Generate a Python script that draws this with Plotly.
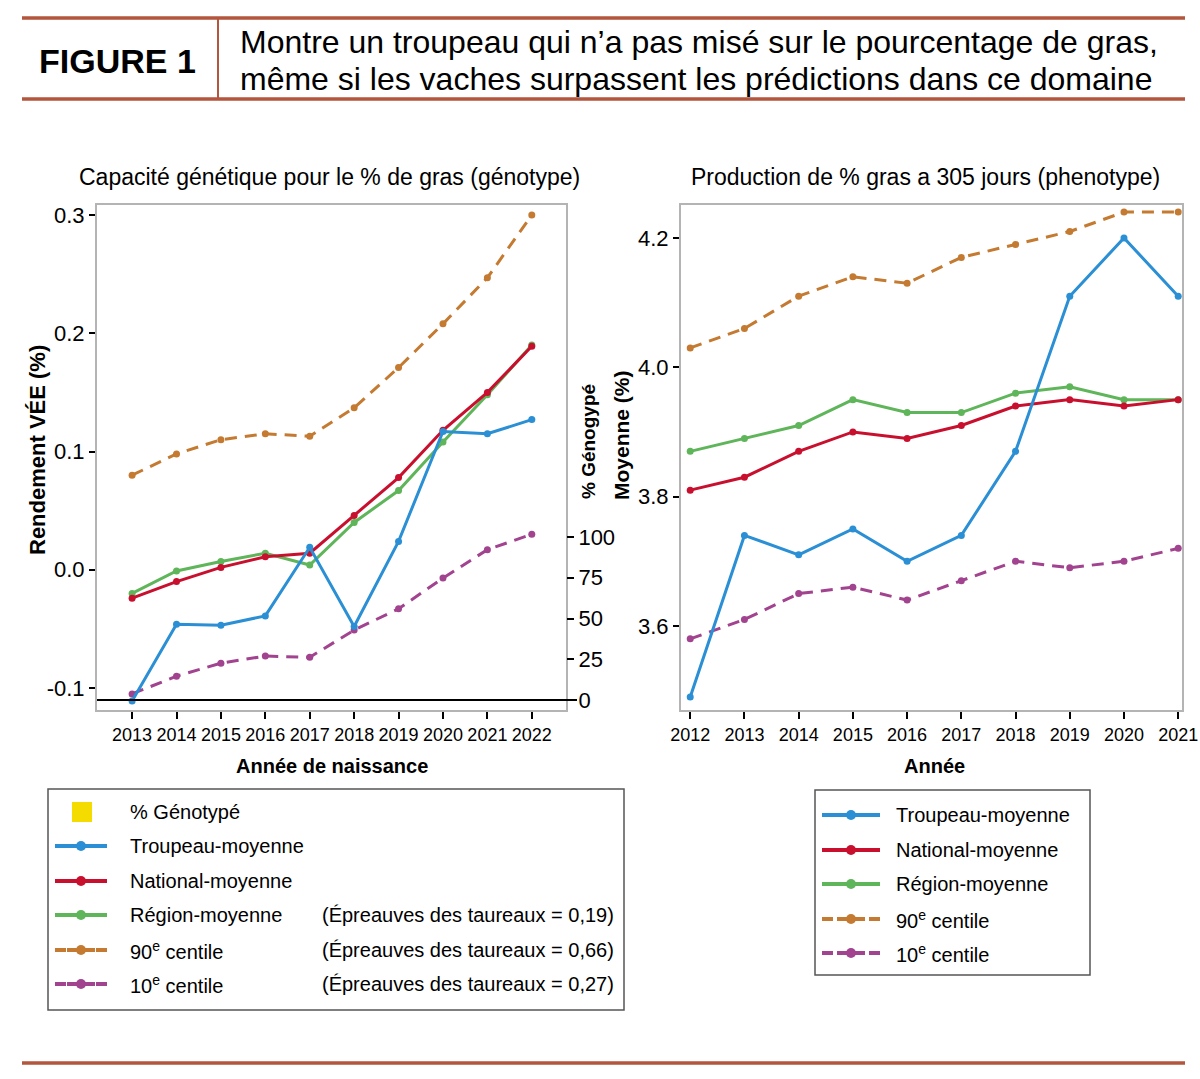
import plotly.graph_objects as go

# ---------------- data ----------------
years_gen = [2013, 2014, 2015, 2016, 2017, 2018, 2019, 2020, 2021, 2022]
troupeau_gen = [-0.111, -0.046, -0.047, -0.039, 0.019, -0.048, 0.024, 0.117, 0.115, 0.127]
national_gen = [-0.024, -0.010, 0.002, 0.011, 0.014, 0.046, 0.078, 0.118, 0.150, 0.189]
region_gen = [-0.020, -0.001, 0.007, 0.014, 0.004, 0.040, 0.067, 0.108, 0.148, 0.190]
p90_gen = [0.080, 0.098, 0.110, 0.115, 0.113, 0.137, 0.171, 0.208, 0.247, 0.300]
p10_gen = [-0.105, -0.090, -0.079, -0.073, -0.074, -0.051, -0.033, -0.007, 0.017, 0.030]

years_phen = [2012, 2013, 2014, 2015, 2016, 2017, 2018, 2019, 2020, 2021]
troupeau_phen = [3.49, 3.74, 3.71, 3.75, 3.70, 3.74, 3.87, 4.11, 4.20, 4.11]
national_phen = [3.81, 3.83, 3.87, 3.90, 3.89, 3.91, 3.94, 3.95, 3.94, 3.95]
region_phen = [3.87, 3.89, 3.91, 3.95, 3.93, 3.93, 3.96, 3.97, 3.95, 3.95]
p90_phen = [4.03, 4.06, 4.11, 4.14, 4.13, 4.17, 4.19, 4.21, 4.24, 4.24]
p10_phen = [3.58, 3.61, 3.65, 3.66, 3.64, 3.67, 3.70, 3.69, 3.70, 3.72]

gen_yticks = [-0.1, 0.0, 0.1, 0.2, 0.3]
gen_yticklabels = ["-0.1", "0.0", "0.1", "0.2", "0.3"]
genotyped_ticks = [0, 25, 50, 75, 100]
phen_yticks = [3.6, 3.8, 4.0, 4.2]
phen_yticklabels = ["3.6", "3.8", "4.0", "4.2"]

series_names = ["Troupeau-moyenne", "National-moyenne", "Région-moyenne",
                "90<sup>e</sup> centile", "10<sup>e</sup> centile"]
bull_proofs = ["(Épreauves des taureaux = 0,19)", "(Épreauves des taureaux = 0,66)",
               "(Épreauves des taureaux = 0,27)"]

# ---------------- style ----------------
W, H = 1200, 1079
FONT = "Liberation Sans, Arial, sans-serif"
C_BLUE = "#2a8fd4"
C_RED = "#c8102e"
C_GREEN = "#5fb55a"
C_ORANGE = "#c47a30"
C_PURPLE = "#a2438f"
C_RULE = "#b4553d"
C_FRAME = "#b4b4b4"
DASH = "12px,8px"


def px(x):
    return x / W


def py(y):
    return 1 - y / H


fig = go.Figure()

styles = [
    ("p90", C_ORANGE, DASH),
    ("p10", C_PURPLE, DASH),
    ("region", C_GREEN, "solid"),
    ("national", C_RED, "solid"),
    ("troupeau", C_BLUE, "solid"),
]
gen_data = {"troupeau": troupeau_gen, "national": national_gen, "region": region_gen,
            "p90": p90_gen, "p10": p10_gen}
phen_data = {"troupeau": troupeau_phen, "national": national_phen, "region": region_phen,
             "p90": p90_phen, "p10": p10_phen}

for key, color, dash in styles:
    fig.add_trace(go.Scatter(
        x=years_gen, y=gen_data[key], mode="lines+markers", xaxis="x", yaxis="y",
        line=dict(color=color, width=3, dash=dash),
        marker=dict(color=color, size=7), showlegend=False, hoverinfo="skip"))
for key, color, dash in styles:
    fig.add_trace(go.Scatter(
        x=years_phen, y=phen_data[key], mode="lines+markers", xaxis="x2", yaxis="y3",
        line=dict(color=color, width=3, dash=dash),
        marker=dict(color=color, size=7), showlegend=False, hoverinfo="skip"))

axis_common = dict(showgrid=False, zeroline=False, showline=True, linecolor=C_FRAME,
                   linewidth=2, mirror=True, ticks="outside", tickcolor="black",
                   tickwidth=2, automargin=False)
xtick_font = dict(family=FONT, size=18, color="black")
ytick_font = dict(family=FONT, size=22, color="black")

fig.update_layout(
    width=W, height=H, margin=dict(l=0, r=0, t=0, b=0, autoexpand=False),
    paper_bgcolor="white", plot_bgcolor="white", showlegend=False,
    font=dict(family=FONT, color="black"),
    xaxis=dict(domain=[px(97), px(566)], range=[2012.21, 2022.77], anchor="y",
               tickvals=years_gen, tickangle=0, ticklen=7, tickfont=xtick_font, **axis_common),
    yaxis=dict(domain=[py(710), py(205)], range=[-0.1186, 0.3085], anchor="x",
               tickvals=gen_yticks, ticktext=gen_yticklabels, ticklen=6,
               tickfont=ytick_font, **axis_common),
    yaxis2=dict(overlaying="y", side="right", anchor="x", range=[-6.13, 303.7],
                tickvals=genotyped_ticks, showgrid=False, zeroline=False, showline=False,
                ticks="outside", tickcolor="black", tickwidth=2, ticklen=7,
                automargin=False, tickfont=ytick_font),
    xaxis2=dict(domain=[px(681), px(1182)], range=[2011.83, 2021.07], anchor="y3",
                tickvals=years_phen, tickangle=0, ticklen=7, tickfont=xtick_font, **axis_common),
    yaxis3=dict(domain=[py(710), py(205)], range=[3.470, 4.251], anchor="x2",
                tickvals=phen_yticks, ticktext=phen_yticklabels, ticklen=6,
                tickfont=ytick_font, **axis_common),
)

shapes = []
annotations = []

# baseline of the % genotyped axis
shapes.append(dict(type="line", xref="paper", yref="y2", x0=px(97), x1=px(577), y0=0, y1=0,
                   line=dict(color="black", width=2)))

# header rules
for yy in (18, 99):
    shapes.append(dict(type="line", xref="paper", yref="paper", x0=px(22), x1=px(1185),
                       y0=py(yy), y1=py(yy), line=dict(color=C_RULE, width=3.5)))
shapes.append(dict(type="line", xref="paper", yref="paper", x0=px(218), x1=px(218),
                   y0=py(18), y1=py(99), line=dict(color=C_RULE, width=2)))
shapes.append(dict(type="line", xref="paper", yref="paper", x0=px(22), x1=px(1185),
                   y0=py(1063), y1=py(1063), line=dict(color=C_RULE, width=3.5)))


def ann(text, x, y, size, bold=False, xanchor="center", angle=0):
    if bold:
        text = "<b>" + text + "</b>"
    annotations.append(dict(text=text, x=px(x), y=py(y), xref="paper", yref="paper",
                            showarrow=False, xanchor=xanchor, yanchor="middle",
                            textangle=angle, font=dict(family=FONT, size=size, color="black")))


ann("FIGURE 1", 117, 61, 34, bold=True)
ann("Montre un troupeau qui n’a pas misé sur le pourcentage de gras,", 238, 42, 32, xanchor="left")
ann("même si les vaches surpassent les prédictions dans ce domaine", 238, 79, 32, xanchor="left")

ann("Capacité génétique pour le % de gras (génotype)", 329, 177, 23)
ann("Production de % gras a 305 jours (phenotype)", 926, 177, 23)
ann("Rendement VÉE (%)", 37, 450, 22, bold=True, angle=-90)
ann("% Génogypé", 588, 442, 19, bold=True, angle=-90)
ann("Moyenne (%)", 622, 435, 21, bold=True, angle=-90)
ann("Année de naissance", 332, 766, 20, bold=True)
ann("Année", 934, 766, 20, bold=True)

# ---------------- legends ----------------
key_styles = [(C_BLUE, "solid"), (C_RED, "solid"), (C_GREEN, "solid"),
              (C_ORANGE, DASH), (C_PURPLE, DASH)]
LEG_SIZE = 20


def legend_key(x0, x1, y, color, dash):
    if dash == "solid":
        shapes.append(dict(type="line", xref="paper", yref="paper", x0=px(x0), x1=px(x1),
                           y0=py(y), y1=py(y), line=dict(color=color, width=4)))
    else:
        cx = (x0 + x1) / 2
        for a, b in ((x0, x0 + 11), (cx - 14, cx + 14), (x1 - 11, x1)):
            shapes.append(dict(type="line", xref="paper", yref="paper", x0=px(a), x1=px(b),
                               y0=py(y), y1=py(y), line=dict(color=color, width=4)))
    cx = (x0 + x1) / 2
    r = 5
    shapes.append(dict(type="circle", xref="paper", yref="paper", x0=px(cx - r), x1=px(cx + r),
                       y0=py(y + r), y1=py(y - r), fillcolor=color, line=dict(color=color, width=0)))


# left legend
shapes.append(dict(type="rect", xref="paper", yref="paper", x0=px(48), x1=px(624),
                   y0=py(1010), y1=py(789), line=dict(color="#555555", width=1.5)))
rows_left = [812, 846, 881, 915, 950, 984]
shapes.append(dict(type="rect", xref="paper", yref="paper", x0=px(72), x1=px(92),
                   y0=py(822), y1=py(802), fillcolor="#f5dc00", line=dict(width=0)))
ann("% Génotypé", 128, rows_left[0], LEG_SIZE, xanchor="left")
for i, name in enumerate(series_names):
    yy = rows_left[i + 1]
    color, dash = key_styles[i]
    legend_key(55, 107, yy, color, dash)
    ann(name, 128, yy, LEG_SIZE, xanchor="left")
for i, txt in enumerate(bull_proofs):
    ann(txt, 320, rows_left[i + 3], LEG_SIZE, xanchor="left")

# right legend
shapes.append(dict(type="rect", xref="paper", yref="paper", x0=px(815), x1=px(1090),
                   y0=py(975), y1=py(790), line=dict(color="#555555", width=1.5)))
rows_right = [815, 850, 884, 919, 953]
for i, name in enumerate(series_names):
    yy = rows_right[i]
    color, dash = key_styles[i]
    legend_key(822, 880, yy, color, dash)
    ann(name, 894, yy, LEG_SIZE, xanchor="left")

fig.update_layout(shapes=shapes, annotations=annotations)
fig.write_html("out.html")
